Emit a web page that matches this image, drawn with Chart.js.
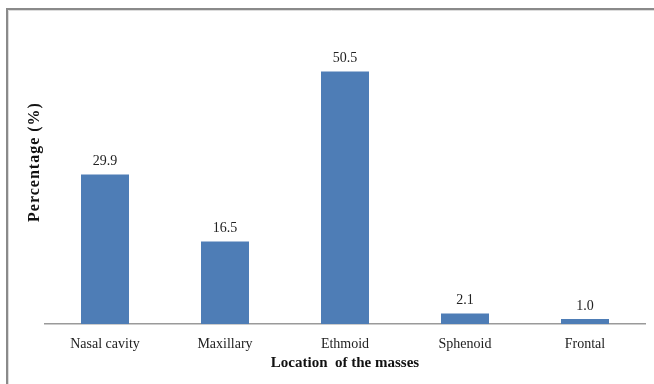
<!DOCTYPE html>
<html>
<head>
<meta charset="utf-8">
<script src="https://cdn.jsdelivr.net/npm/chart.js@4/dist/chart.umd.min.js"></script>
<style>
  html, body { margin: 0; padding: 0; background: #fff; }
  #wrap { width: 654px; height: 384px; position: relative; }
</style>
</head>
<body>
<div id="wrap"><canvas id="c" width="654" height="384"></canvas></div>
<script>
const categories = ["Nasal cavity", "Maxillary", "Ethmoid", "Sphenoid", "Frontal"];
const percentages = [29.9, 16.5, 50.5, 2.1, 1.0];
const xTitle = "Location  of the masses";
const yTitle = "Percentage (%)";

const SERIF = "'Liberation Serif', 'Times New Roman', serif";

// White page with a grey frame along the top and left edges
const framePlugin = {
  id: 'frame',
  beforeDraw(chart) {
    const ctx = chart.ctx;
    ctx.save();
    ctx.fillStyle = '#ffffff';
    ctx.fillRect(0, 0, chart.width, chart.height);
    ctx.strokeStyle = '#8a8a8a';
    ctx.lineWidth = 2;
    ctx.beginPath();
    ctx.moveTo(7, chart.height);
    ctx.lineTo(7, 9);
    ctx.lineTo(chart.width, 9);
    ctx.stroke();
    ctx.strokeStyle = '#dcdcdc';
    ctx.lineWidth = 1;
    ctx.beginPath();
    ctx.moveTo(8.5, chart.height);
    ctx.lineTo(8.5, 10.5);
    ctx.lineTo(chart.width, 10.5);
    ctx.stroke();
    ctx.restore();
  }
};

// Value printed above each bar, and the vertical axis title
const labelsPlugin = {
  id: 'valueLabels',
  afterDatasetsDraw(chart) {
    const ctx = chart.ctx;
    const meta = chart.getDatasetMeta(0);
    ctx.save();
    ctx.font = "14px " + SERIF;
    ctx.fillStyle = '#222';
    ctx.textAlign = 'center';
    ctx.textBaseline = 'bottom';
    meta.data.forEach((bar, i) => {
      ctx.fillText(percentages[i].toFixed(1), bar.x, bar.y - 6);
    });
    ctx.restore();

    ctx.save();
    ctx.translate(35, 162);
    ctx.rotate(-Math.PI / 2);
    ctx.font = "bold 16px " + SERIF;
    ctx.fillStyle = '#111';
    ctx.letterSpacing = '1px';
    ctx.textAlign = 'center';
    ctx.textBaseline = 'middle';
    ctx.fillText(yTitle, 0, 0);
    ctx.restore();
  }
};

new Chart(document.getElementById('c'), {
  type: 'bar',
  data: {
    labels: categories,
    datasets: [{
      data: percentages,
      backgroundColor: '#4e7db6',
      borderWidth: 0,
      categoryPercentage: 0.4,
      barPercentage: 1.0
    }]
  },
  options: {
    responsive: false,
    animation: false,
    devicePixelRatio: 1,
    layout: { padding: { left: 22, right: 9, top: 24, bottom: 8 } },
    plugins: {
      legend: { display: false },
      tooltip: { enabled: false }
    },
    scales: {
      x: {
        grid: { display: false },
        border: { display: true, color: '#9a9a9a', width: 1.5 },
        ticks: {
          color: '#222',
          font: { family: SERIF, size: 14 },
          padding: 4,
          maxRotation: 0
        },
        title: {
          display: true,
          text: xTitle,
          color: '#111',
          font: { family: SERIF, size: 15, weight: 'bold' },
          padding: { top: 4, bottom: 4 }
        },
        afterFit(scale) { scale.height = 52; }
      },
      y: {
        min: 0,
        max: 60,
        grid: { display: false },
        border: { display: false },
        ticks: { display: false },
        title: { display: false },
        afterFit(scale) { scale.width = 23; }
      }
    }
  },
  plugins: [framePlugin, labelsPlugin]
});
</script>
</body>
</html>
